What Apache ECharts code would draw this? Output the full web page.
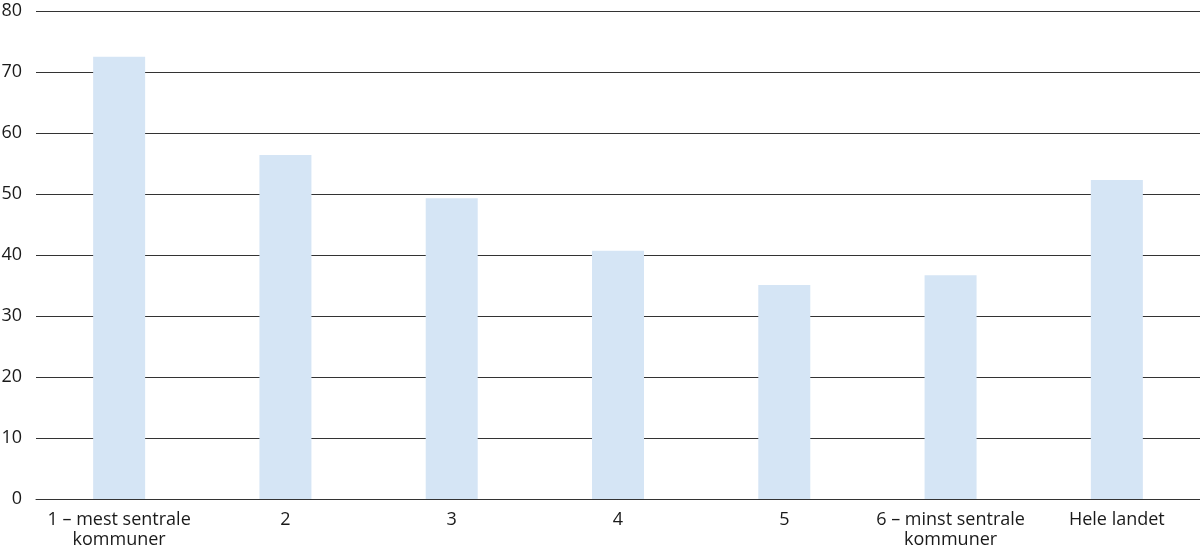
<!DOCTYPE html>
<html lang="en">
<head>
    <meta charset="UTF-8">
    <title>Chart</title>
    <script src="https://cdn.jsdelivr.net/npm/echarts@6/dist/echarts.min.js"></script>
</head>
<body style="margin:0;overflow:hidden;">
<div id="demo" style="width: 1200px;height: 549px;"></div>
</body>
</html>
<script>
    var categories = ['1 – mest sentrale\nkommuner', '2', '3', '4', '5', '6 – minst sentrale\nkommuner', 'Hele landet'];
    var values = [72.5, 56.4, 49.3, 40.7, 35.1, 36.7, 52.3];

    var myChart = echarts.init(document.getElementById('demo'));
    var option = {
        animation: false,
        grid: {
            left: 36,
            right: 0,
            top: 11,
            bottom: 50,
            outerBoundsMode: 'none'
        },
        xAxis: {
            type: 'category',
            data: categories,
            axisTick: {show: false},
            axisLine: {show: true, lineStyle: {color: '#333', width: 1}},
            axisLabel: {
                interval: 0,
                margin: 11,
                fontFamily: 'Open Sans',
                fontSize: 18,
                color: '#1a1a1a',
                lineHeight: 20
            }
        },
        yAxis: {
            type: 'value',
            min: 0,
            max: 80,
            interval: 10,
            axisLine: {show: false},
            axisTick: {show: false},
            splitLine: {lineStyle: {color: '#333', width: 1}},
            axisLabel: {
                margin: 14,
                fontFamily: 'Open Sans',
                fontSize: 18,
                color: '#1a1a1a'
            }
        },
        series: [
            {
                type: 'bar',
                data: values,
                barWidth: 52,
                itemStyle: {color: '#d5e5f5'}
            }
        ]
    };
    myChart.setOption(option);
</script>
